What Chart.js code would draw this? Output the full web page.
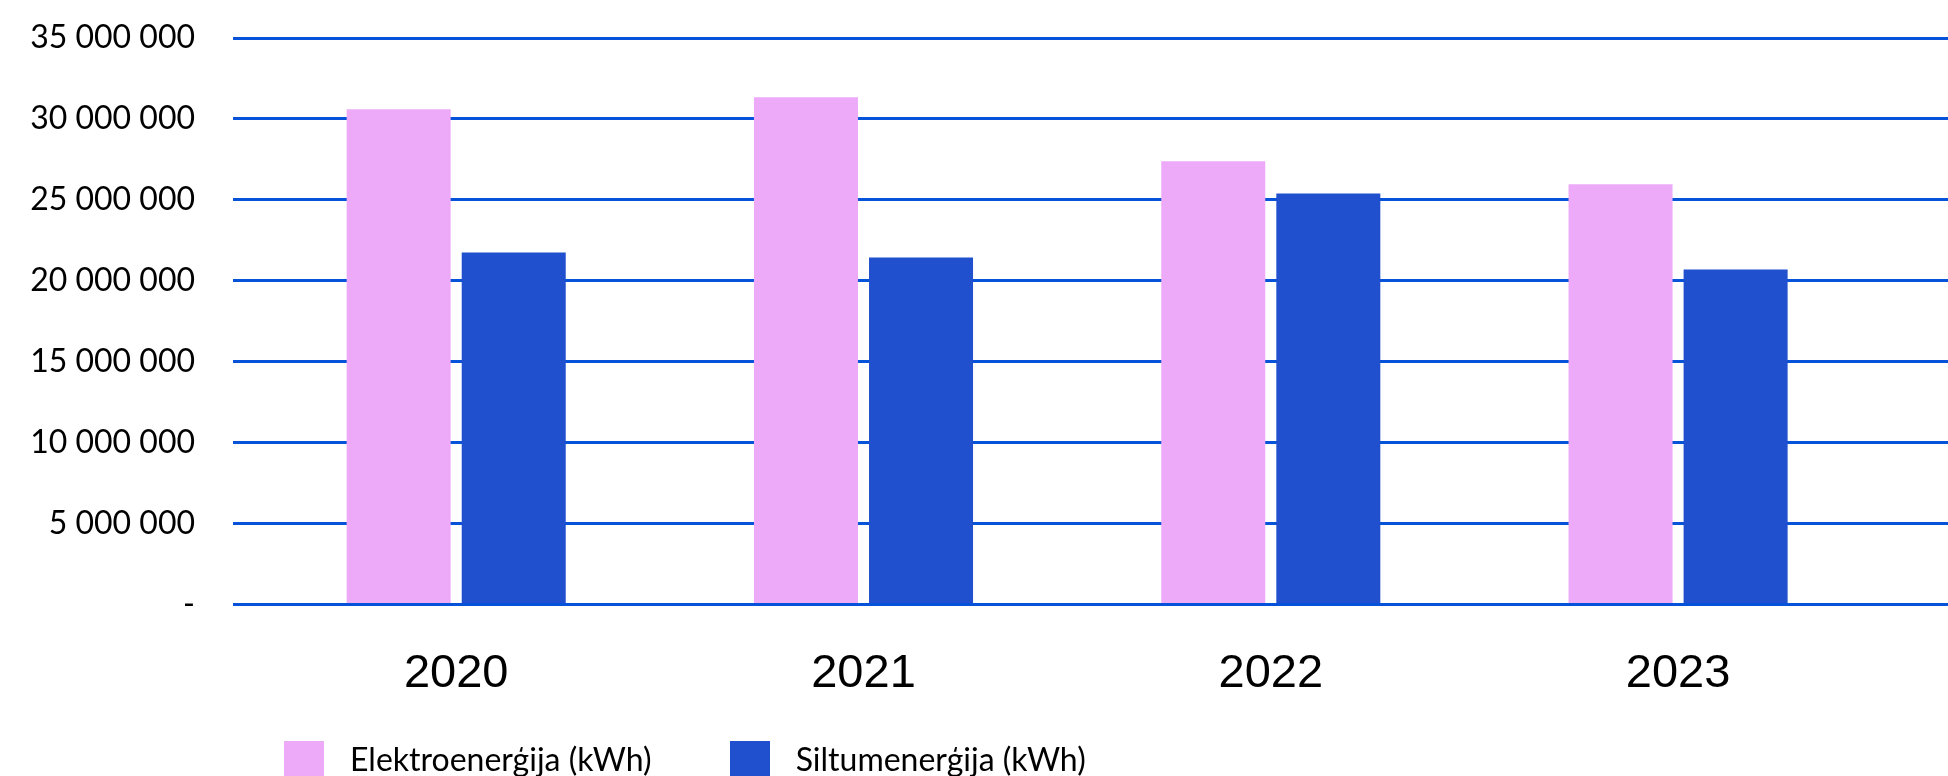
<!DOCTYPE html>
<html>
<head>
<meta charset="utf-8">
<script src="https://cdn.jsdelivr.net/npm/chart.js@4.4.1/dist/chart.umd.min.js"></script>
<style>
  html, body { margin: 0; padding: 0; background: #fff; overflow: hidden; }
  #wrap { position: relative; width: 1948px; height: 853px; }
</style>
</head>
<body>
<div id="wrap"><canvas id="energyChart"></canvas></div>
<script>
const years = ['2020', '2021', '2022', '2023'];
const electricity = [30600000, 31340000, 27380000, 25960000];
const heat = [21750000, 21440000, 25400000, 20700000];
const seriesNames = ['Elektroenerģija (kWh)', 'Siltumenerģija (kWh)'];
const yTicksMax = 35000000;
const yTicksStep = 5000000;

const pink = '#edaaf9';
const blue = '#2150cf';
const gridBlue = '#0652d8';

// square swatch used as legend point style
function swatch(color) {
    const c = document.createElement('canvas');
    c.width = 40;
    c.height = 40;
    const g = c.getContext('2d');
    g.fillStyle = color;
    g.fillRect(0, 0, 40, 40);
    return c;
}
const swatches = [swatch(pink), swatch(blue)];

function formatTick(v) {
    if (v === 0) return '-';
    return String(v).replace(/\B(?=(\d{3})+(?!\d))/g, ' ');
}

// moves the legend row to where it sits in the original
const legendShift = {
    id: 'legendShift',
    afterLayout(chart) {
        chart.legend.left = 206;
        chart.legend.top = 677;
    }
};

const ctx = document.getElementById('energyChart').getContext('2d');
const energyChart = new Chart(ctx, {
    type: 'bar',
    data: {
        labels: years,
        datasets: [
            {
                label: seriesNames[0],
                data: electricity,
                backgroundColor: pink,
                borderWidth: 0,
                categoryPercentage: 0.565,
                barPercentage: 0.904
            },
            {
                label: seriesNames[1],
                data: heat,
                backgroundColor: blue,
                borderWidth: 0,
                categoryPercentage: 0.565,
                barPercentage: 0.904
            }
        ]
    },
    plugins: [legendShift],
    options: {
        responsive: true,
        maintainAspectRatio: false,
        animation: false,
        layout: {
            padding: { top: 0, left: 0, right: 0, bottom: 0 }
        },
        plugins: {
            tooltip: { enabled: false },
            legend: {
                display: true,
                position: 'bottom',
                align: 'start',
                labels: {
                    color: '#000',
                    font: { family: 'Lato', size: 32 },
                    usePointStyle: true,
                    pointStyleWidth: 60,
                    padding: 68,
                    generateLabels(chart) {
                        const items = Chart.defaults.plugins.legend.labels.generateLabels(chart);
                        items.forEach((it, i) => { it.pointStyle = swatches[i]; });
                        return items;
                    }
                }
            }
        },
        scales: {
            x: {
                grid: { display: false, drawTicks: false },
                border: { display: false },
                ticks: {
                    color: '#000',
                    padding: 41,
                    font: { family: 'Liberation Sans', size: 47 }
                },
                afterBuildTicks(scale) {
                    // uneven spacing of the groups in the original
                    scale._startValue = -0.548;
                    scale._valueRange = 4.2107;
                }
            },
            y: {
                min: 0,
                max: yTicksMax,
                grid: {
                    color: gridBlue,
                    lineWidth: 3,
                    drawTicks: false
                },
                border: { display: false },
                ticks: {
                    stepSize: yTicksStep,
                    color: '#000',
                    padding: 38,
                    font: { family: 'Lato', size: 32 },
                    callback: (v) => formatTick(v)
                },
                afterFit(scale) {
                    scale.width = 233;
                    scale.paddingTop = 38;
                    scale.paddingBottom = 0;
                }
            }
        }
    }
});
</script>
</body>
</html>
